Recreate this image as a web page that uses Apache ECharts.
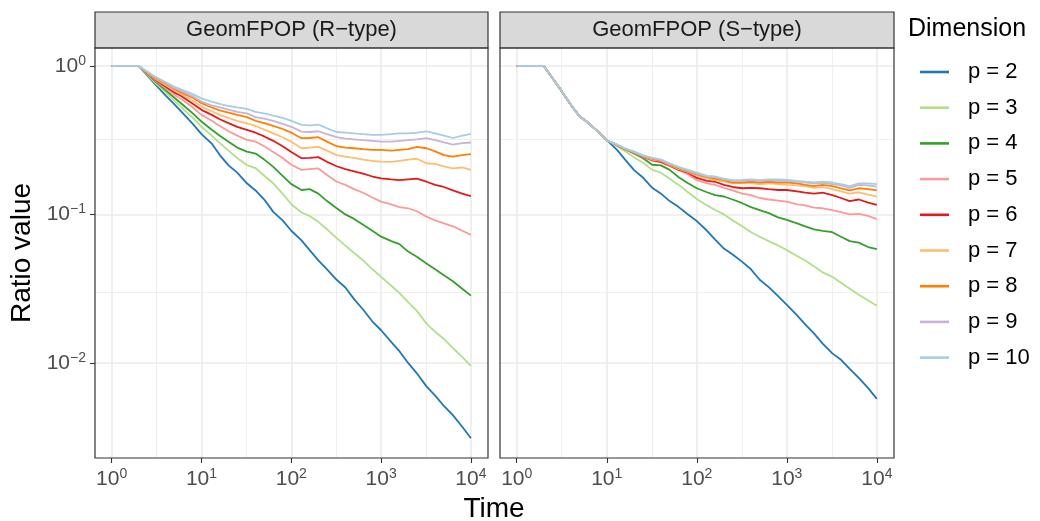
<!DOCTYPE html>
<html>
<head>
<meta charset="utf-8">
<script src="https://cdn.jsdelivr.net/npm/echarts@6/dist/echarts.min.js"></script>
<style>
html,body{margin:0;padding:0;background:#fff;}
#chart{width:1040px;height:521px;}
</style>
</head>
<body>
<div id="chart"></div>
<script>
// ---- data ----
const times = [1,2,3,4,5,6,8,10,13,16,20,25,32,40,50,63,80,100,130,160,200,250,320,400,500,630,800,1000,1300,1600,2000,2500,3200,4000,5000,6300,8000,10000];
const dims = ['p = 2','p = 3','p = 4','p = 5','p = 6','p = 7','p = 8','p = 9','p = 10'];
const panelTitles = ['GeomFPOP (R\u2212type)', 'GeomFPOP (S\u2212type)'];
const xTicks = [1, 10, 100, 1000, 10000];
const yTicks = [0.01, 0.1, 1];
const xMinor = [3.1623, 31.623, 316.23, 3162.3];
const yMinor = [0.31623, 0.031623, 0.0031623];

// R-type panel
const rP2  = [1,1,0.759,0.631,0.550,0.490,0.407,0.347,0.300,0.251,0.214,0.191,0.162,0.145,0.126,0.104,0.0912,0.0776,0.0668,0.0575,0.0490,0.0427,0.0363,0.0322,0.0269,0.0229,0.0190,0.0166,0.0138,0.0120,0.0100,0.00851,0.00695,0.00603,0.00513,0.00445,0.00372,0.00311];
const rP3  = [1,1,0.776,0.661,0.582,0.525,0.447,0.389,0.339,0.302,0.269,0.240,0.215,0.205,0.182,0.162,0.138,0.117,0.103,0.0977,0.0891,0.0794,0.0692,0.0617,0.0550,0.0490,0.0427,0.0380,0.0331,0.0295,0.0257,0.0224,0.0184,0.0162,0.0145,0.0126,0.0110,0.00955];
const rP4  = [1,1,0.794,0.684,0.610,0.556,0.479,0.422,0.372,0.339,0.309,0.282,0.265,0.257,0.234,0.209,0.182,0.160,0.146,0.148,0.138,0.123,0.110,0.100,0.0933,0.0851,0.0776,0.0708,0.0661,0.0631,0.0562,0.0519,0.0468,0.0427,0.0389,0.0355,0.0316,0.0284];
const rP5  = [1,1,0.804,0.708,0.638,0.596,0.525,0.468,0.427,0.394,0.363,0.339,0.318,0.309,0.288,0.263,0.240,0.216,0.1995,0.202,0.204,0.184,0.166,0.158,0.148,0.140,0.130,0.122,0.117,0.112,0.110,0.105,0.0966,0.0912,0.0871,0.0832,0.0776,0.0728];
const rP6  = [1,1,0.813,0.724,0.661,0.624,0.556,0.506,0.468,0.437,0.412,0.389,0.371,0.355,0.335,0.313,0.288,0.263,0.239,0.240,0.243,0.226,0.211,0.202,0.195,0.188,0.180,0.175,0.172,0.170,0.172,0.174,0.166,0.158,0.153,0.145,0.138,0.133];
const rP7  = [1,1,0.822,0.741,0.684,0.646,0.582,0.532,0.495,0.468,0.447,0.427,0.411,0.394,0.372,0.351,0.331,0.309,0.279,0.282,0.285,0.269,0.251,0.245,0.240,0.234,0.229,0.227,0.226,0.229,0.234,0.237,0.221,0.219,0.211,0.204,0.207,0.1995];
const rP8  = [1,1,0.832,0.759,0.700,0.661,0.610,0.561,0.525,0.501,0.484,0.468,0.452,0.427,0.412,0.394,0.376,0.355,0.326,0.327,0.331,0.309,0.288,0.282,0.279,0.275,0.272,0.272,0.269,0.272,0.275,0.285,0.279,0.266,0.251,0.245,0.251,0.255];
const rP9  = [1,1,0.841,0.767,0.708,0.676,0.624,0.575,0.543,0.525,0.507,0.490,0.479,0.452,0.442,0.427,0.407,0.389,0.361,0.359,0.363,0.347,0.331,0.324,0.320,0.316,0.313,0.309,0.309,0.313,0.316,0.320,0.326,0.316,0.305,0.295,0.302,0.305];
const rP10 = [1,1,0.851,0.776,0.724,0.692,0.646,0.605,0.575,0.556,0.537,0.525,0.513,0.490,0.479,0.462,0.447,0.427,0.401,0.398,0.403,0.380,0.359,0.355,0.351,0.347,0.343,0.343,0.347,0.351,0.351,0.355,0.363,0.351,0.339,0.327,0.339,0.348];

// S-type panel
const sP2  = [1,1,0.708,0.546,0.457,0.422,0.361,0.316,0.272,0.234,0.1995,0.178,0.151,0.138,0.123,0.112,0.100,0.0902,0.0776,0.0676,0.0589,0.0537,0.0479,0.0427,0.0363,0.0324,0.0282,0.0246,0.0209,0.0182,0.0158,0.0135,0.0116,0.0105,0.00912,0.00794,0.00676,0.00573];
const sP3  = [1,1,0.708,0.546,0.457,0.422,0.361,0.316,0.288,0.266,0.243,0.224,0.1995,0.191,0.174,0.158,0.141,0.127,0.115,0.107,0.100,0.0912,0.0832,0.0759,0.0708,0.0661,0.0617,0.0575,0.0525,0.0490,0.0447,0.0407,0.0380,0.0347,0.0316,0.0288,0.0263,0.0243];
const sP4  = [1,1,0.708,0.546,0.457,0.422,0.361,0.316,0.292,0.275,0.257,0.240,0.216,0.214,0.1995,0.178,0.162,0.150,0.141,0.135,0.132,0.126,0.119,0.112,0.107,0.102,0.0955,0.0918,0.0871,0.0832,0.0794,0.0776,0.0759,0.0708,0.0661,0.0646,0.0603,0.0583];
const sP5  = [1,1,0.708,0.546,0.457,0.422,0.361,0.316,0.293,0.275,0.260,0.245,0.229,0.224,0.211,0.1995,0.186,0.170,0.162,0.158,0.151,0.145,0.138,0.135,0.129,0.126,0.124,0.122,0.117,0.115,0.111,0.110,0.107,0.1035,0.100,0.101,0.0977,0.0929];
const sP6  = [1,1,0.708,0.546,0.457,0.422,0.361,0.316,0.293,0.275,0.261,0.246,0.232,0.226,0.214,0.1995,0.191,0.176,0.168,0.166,0.158,0.153,0.150,0.151,0.150,0.148,0.146,0.146,0.143,0.140,0.138,0.140,0.135,0.129,0.123,0.126,0.120,0.116];
const sP7  = [1,1,0.708,0.546,0.457,0.422,0.361,0.316,0.294,0.276,0.262,0.247,0.234,0.229,0.215,0.202,0.193,0.182,0.174,0.170,0.166,0.162,0.162,0.162,0.160,0.162,0.160,0.158,0.157,0.155,0.151,0.153,0.148,0.143,0.138,0.141,0.136,0.132];
const sP8  = [1,1,0.708,0.546,0.457,0.422,0.361,0.316,0.294,0.276,0.263,0.248,0.237,0.231,0.217,0.204,0.195,0.186,0.178,0.174,0.170,0.164,0.164,0.166,0.164,0.166,0.164,0.164,0.162,0.158,0.155,0.158,0.155,0.150,0.145,0.150,0.148,0.145];
const sP9  = [1,1,0.708,0.546,0.457,0.422,0.361,0.316,0.295,0.277,0.264,0.249,0.239,0.233,0.219,0.207,0.197,0.188,0.180,0.178,0.172,0.168,0.168,0.170,0.168,0.170,0.168,0.168,0.166,0.164,0.162,0.162,0.160,0.157,0.151,0.158,0.157,0.154];
const sP10 = [1,1,0.708,0.546,0.457,0.422,0.361,0.316,0.295,0.279,0.266,0.251,0.240,0.234,0.221,0.209,0.1995,0.191,0.182,0.180,0.174,0.170,0.171,0.172,0.170,0.172,0.172,0.171,0.168,0.166,0.164,0.166,0.164,0.160,0.155,0.162,0.162,0.160];

const rSeries = [rP2, rP3, rP4, rP5, rP6, rP7, rP8, rP9, rP10];
const sSeries = [sP2, sP3, sP4, sP5, sP6, sP7, sP8, sP9, sP10];
const colors = ['#1F78B4','#B2DF8A','#33A02C','#FB9A99','#E31A1C','#FDBF6F','#FF7F00','#CAB2D6','#A6CEE3'];

// ---- chart ----
const FONT = 'Liberation Sans, Arial, Helvetica, sans-serif';
const chart = echarts.init(document.getElementById('chart'), null, {renderer: 'canvas'});

function powLabel(v) {
  const e = Math.round(Math.log10(v));
  const es = e < 0 ? '\u2212' + (-e) : String(e);
  return '{b|10}{s|' + es + '}';
}
const labelRich = {
  b: {fontSize: 21, color: '#4D4D4D', fontFamily: FONT, lineHeight: 24},
  s: {fontSize: 14, color: '#4D4D4D', fontFamily: FONT, lineHeight: 13, verticalAlign: 'top'}
};

const grids = [
  {left: 95, top: 48, width: 393, height: 410},
  {left: 500, top: 48, width: 394, height: 410}
];

function xAxis(i) {
  return {
    type: 'log', logBase: 10, gridIndex: i, min: 0.652, max: 15500,
    axisLine: {show: false},
    axisTick: {show: true, length: 5, customValues: xTicks, lineStyle: {color: '#333333', width: 1.1}},
    axisLabel: {customValues: xTicks, formatter: powLabel, rich: labelRich, margin: 9},
    splitLine: {show: true, lineStyle: {color: '#EBEBEB', width: 1.6}}
  };
}
function yAxis(i) {
  return {
    type: 'log', logBase: 10, gridIndex: i, min: 0.00229, max: 1.32,
    axisLine: {show: false},
    axisTick: {show: i === 0, length: 5, customValues: yTicks, lineStyle: {color: '#333333', width: 1.1}},
    axisLabel: {show: i === 0, customValues: yTicks, formatter: powLabel, rich: labelRich, margin: 9},
    splitLine: {show: true, lineStyle: {color: '#EBEBEB', width: 1.6}},
    name: i === 0 ? 'Ratio value' : '',
    nameLocation: 'middle', nameGap: 59,
    nameTextStyle: {fontSize: 28, color: '#000', fontFamily: FONT}
  };
}

const series = [];
[0, 1].forEach(function (g) {
  series.push({
    type: 'line', xAxisIndex: g, yAxisIndex: g, data: [], silent: true, z: 1,
    markLine: {
      silent: true, symbol: ['none', 'none'], z: 1, animation: false,
      label: {show: false}, emphasis: {disabled: true},
      lineStyle: {color: '#EFEFEF', width: 1, type: 'solid'},
      data: xMinor.map(function (v) { return {xAxis: v}; }).concat(yMinor.map(function (v) { return {yAxis: v}; }))
    }
  });
});
[rSeries, sSeries].forEach(function (set, g) {
  set.forEach(function (vals, k) {
    series.push({
      name: dims[k], type: 'line', xAxisIndex: g, yAxisIndex: g, z: 3,
      showSymbol: false, symbol: 'none', smooth: false,
      lineStyle: {color: colors[k], width: 1.8},
      itemStyle: {color: colors[k]},
      emphasis: {disabled: true},
      data: times.map(function (t, j) { return [t, vals[j]]; })
    });
  });
});

const graphic = [];
grids.forEach(function (gd, g) {
  graphic.push({type: 'rect', z: 50, shape: {x: gd.left, y: 12, width: gd.width, height: 36},
    style: {fill: '#D9D9D9', stroke: '#333333', lineWidth: 1.2}});
  graphic.push({type: 'text', z: 51, x: gd.left + gd.width / 2, y: 30,
    style: {text: panelTitles[g], fill: '#1A1A1A', font: '22px ' + FONT, textAlign: 'center', textVerticalAlign: 'middle'}});
  graphic.push({type: 'rect', z: 100, shape: {x: gd.left, y: gd.top, width: gd.width, height: gd.height},
    style: {fill: null, stroke: '#333333', lineWidth: 1.2}});
});
graphic.push({type: 'text', z: 51, x: 494, y: 509,
  style: {text: 'Time', fill: '#000', font: '28px ' + FONT, textAlign: 'center', textVerticalAlign: 'middle'}});
graphic.push({type: 'text', z: 51, x: 908, y: 29,
  style: {text: 'Dimension', fill: '#000', font: '25px ' + FONT, textAlign: 'left', textVerticalAlign: 'middle'}});

chart.setOption({
  animation: false,
  backgroundColor: '#ffffff',
  grid: grids,
  xAxis: [xAxis(0), xAxis(1)],
  yAxis: [yAxis(0), yAxis(1)],
  legend: {
    data: dims.map(function (d, k) { return {name: d, icon: 'rect', itemStyle: {color: colors[k]}}; }),
    orient: 'vertical', left: 915, top: 55,
    itemWidth: 29, itemHeight: 2.6, itemGap: 11.7,
    selectedMode: false,
    textStyle: {fontSize: 22, color: '#000', fontFamily: FONT, lineHeight: 24, padding: [0, 0, 0, 14]}
  },
  graphic: graphic,
  series: series
});
</script>
</body>
</html>
